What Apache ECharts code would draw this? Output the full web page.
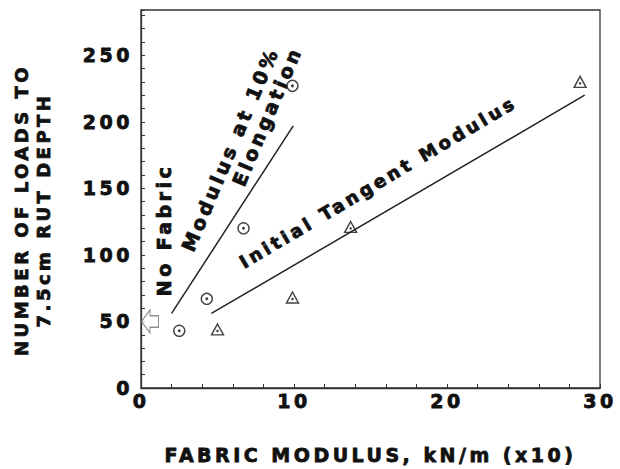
<!DOCTYPE html>
<html>
<head>
<meta charset="utf-8">
<script src="https://cdn.jsdelivr.net/npm/echarts@6/dist/echarts.min.js"></script>
<style>
  html, body { margin: 0; padding: 0; background: #fff; }
  #c { width: 620px; height: 469px; }
  #c text { letter-spacing: 3.5px; }
</style>
</head>
<body>
<div id="c"></div>
<script>
// ---- data ----
const xTickLabels = [0, 10, 20, 30];
const yTickLabels = [0, 50, 100, 150, 200, 250];

// Modulus at 10% elongation (circles)
const elongX = [2.5, 4.3, 6.7, 9.9];
const elongY = [43, 67, 120, 227];
// Initial tangent modulus (triangles)
const tangX = [5.0, 9.9, 13.7, 28.7];
const tangY = [44, 68, 121, 230];
// fitted lines
const elongLineX = [2.0, 9.95];
const elongLineY = [56, 197];
const tangLineX = [4.6, 29.0];
const tangLineY = [56, 220];
// no-fabric marker
const noFabricX = [0];
const noFabricY = [50];

const pairs = (xs, ys) => xs.map((x, i) => [x, ys[i]]);
const INK = '#111';
const FONT = '"DejaVu Sans", sans-serif';
const BW = 0.8; // extra weight on text

const chart = echarts.init(document.getElementById('c'), null, { renderer: 'svg' });
chart.setOption({
  backgroundColor: '#ffffff',
  animation: false,
  grid: {
    left: 141, right: 20, top: 10, bottom: 81,
    show: true, borderColor: '#333', borderWidth: 1.3,
    containLabel: false, outerBoundsMode: 'none'
  },
  xAxis: {
    type: 'value', min: 0, max: 30, interval: 2,
    name: 'FABRIC MODULUS, kN/m (x10)',
    nameLocation: 'middle', nameGap: 57,
    nameTextStyle: { fontFamily: FONT, fontWeight: 'bold', fontSize: 19, color: INK,
                     textBorderColor: INK, textBorderWidth: BW },
    axisLine: { show: true, lineStyle: { color: '#333', width: 1.3 } },
    axisTick: { show: true, inside: true, length: 4, lineStyle: { color: '#333' } },
    axisLabel: {
      formatter: v => xTickLabels.includes(v) ? String(v) : '',
      fontFamily: FONT, fontWeight: 'bold', fontSize: 19, color: INK, margin: 3,
      textBorderColor: INK, textBorderWidth: BW, hideOverlap: false
    },
    splitLine: { show: false }
  },
  yAxis: {
    type: 'value', min: 0, max: 284, interval: 10,
    axisLine: { show: true, lineStyle: { color: '#333', width: 1.3 } },
    axisTick: { show: true, inside: true, length: 4, lineStyle: { color: '#333' } },
    axisLabel: {
      formatter: v => yTickLabels.includes(v) ? String(v) : '',
      fontFamily: FONT, fontWeight: 'bold', fontSize: 19, color: INK, margin: 8,
      textBorderColor: INK, textBorderWidth: BW, hideOverlap: false
    },
    splitLine: { show: false }
  },
  series: [
    {
      type: 'line', data: pairs(elongLineX, elongLineY), symbol: 'none',
      lineStyle: { color: '#222', width: 1.5 }, silent: true
    },
    {
      type: 'line', data: pairs(tangLineX, tangLineY), symbol: 'none',
      lineStyle: { color: '#222', width: 1.5 }, silent: true
    },
    {
      type: 'scatter', data: pairs(elongX, elongY), symbol: 'circle', symbolSize: 11,
      itemStyle: { color: '#fff', borderColor: '#111', borderWidth: 1.4 }
    },
    {
      type: 'scatter', data: pairs(elongX, elongY), symbol: 'circle', symbolSize: 3,
      itemStyle: { color: '#111' }, silent: true
    },
    {
      type: 'scatter', data: pairs(tangX, tangY), symbol: 'triangle', symbolSize: [12, 11],
      itemStyle: { color: '#fff', borderColor: '#111', borderWidth: 1.4 }
    },
    {
      type: 'scatter', data: pairs(tangX, tangY), symbol: 'circle', symbolSize: 2.5,
      symbolOffset: [0, 1.5],
      itemStyle: { color: '#111' }, silent: true
    },
    {
      type: 'scatter', data: pairs(noFabricX, noFabricY), clip: false,
      symbol: 'path://M0,12 L9,0 L9,6 L18,6 L18,18 L9,18 L9,24 Z',
      symbolSize: [17, 23], symbolOffset: [9, 0], symbolKeepAspect: false,
      itemStyle: { color: '#fff', borderColor: '#777', borderWidth: 1.2 }
    }
  ],
  graphic: [
    {
      type: 'text', x: 32, y: 210, rotation: Math.PI / 2,
      style: {
        text: 'NUMBER OF LOADS TO\n7.5cm RUT DEPTH',
        font: 'bold 18px "DejaVu Sans", sans-serif', fill: INK, stroke: INK, lineWidth: BW,
        align: 'center', verticalAlign: 'middle', lineHeight: 22
      }
    },
    {
      type: 'text', x: 163.5, y: 230, rotation: Math.PI / 2,
      style: { text: 'No Fabric', font: 'bold 19px "DejaVu Sans", sans-serif', fill: INK,
               stroke: INK, lineWidth: BW, align: 'center', verticalAlign: 'middle' }
    },
    {
      type: 'text', x: 230, y: 149, rotation: 67 * Math.PI / 180,
      style: { text: 'Modulus at 10%', font: 'bold 19px "DejaVu Sans", sans-serif', fill: INK,
               stroke: INK, lineWidth: BW, align: 'center', verticalAlign: 'middle' }
    },
    {
      type: 'text', x: 267, y: 116, rotation: 67 * Math.PI / 180,
      style: { text: 'Elongation', font: 'bold 19px "DejaVu Sans", sans-serif', fill: INK,
               stroke: INK, lineWidth: BW, align: 'center', verticalAlign: 'middle' }
    },
    {
      type: 'text', x: 378, y: 182, rotation: 30.7 * Math.PI / 180,
      style: { text: 'Initial Tangent Modulus', font: 'bold 18px "DejaVu Sans", sans-serif', fill: INK,
               stroke: INK, lineWidth: BW, align: 'center', verticalAlign: 'middle' }
    }
  ]
});
</script>
</body>
</html>
